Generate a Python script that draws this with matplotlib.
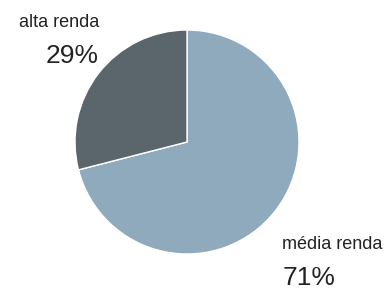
import matplotlib
matplotlib.use("Agg")
import matplotlib.pyplot as plt

categories = ["média renda", "alta renda"]
values = [71, 29]
pct_labels = ["71%", "29%"]
colors = ["#8FAABD", "#5A656C"]

W, H = 390, 289
fig = plt.figure(figsize=(W / 100, H / 100), dpi=100)
ax = fig.add_axes([0, 0, 1, 1])
cx, cy, r = 187, 142, 112
ax.pie(values, colors=colors, startangle=90, counterclock=False, radius=1,
       wedgeprops=dict(edgecolor="white", linewidth=1))
ax.set_xlim(-cx / r, (W - cx) / r)
ax.set_ylim(-(H - cy) / r, cy / r)
ax.set_aspect("equal")
ax.axis("off")

font = "Liberation Sans"
tc = "#222222"
# alta renda (right-aligned, upper left)
fig.text(99 / W, 1 - 27 / H, categories[1], ha="right", va="baseline",
         fontsize=13, family=font, color=tc)
fig.text(99 / W, 1 - 63 / H, pct_labels[1], ha="right", va="baseline",
         fontsize=19, family=font, color=tc)
# média renda (left-aligned, lower right)
fig.text(282 / W, 1 - 249 / H, categories[0], ha="left", va="baseline",
         fontsize=13, family=font, color=tc)
fig.text(283 / W, 1 - 285 / H, pct_labels[0], ha="left", va="baseline",
         fontsize=19, family=font, color=tc)

fig.savefig("out.png", dpi=100)
